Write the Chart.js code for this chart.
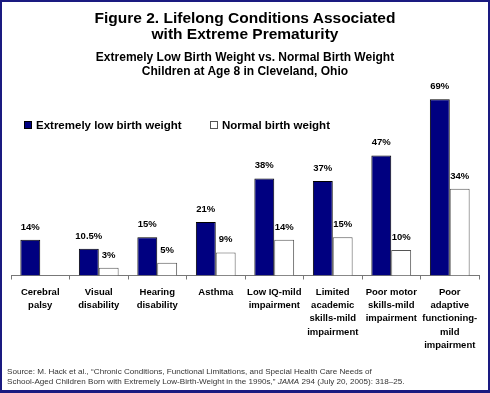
<!DOCTYPE html>
<html lang="en">
<head>
    <meta charset="UTF-8">
    <title>Figure 2. Lifelong Conditions Associated with Extreme Prematurity</title>
    <style>
        html, body {
            margin: 0;
            padding: 0;
            background: #fff;
        }
        #frame {
            position: relative;
            width: 490px;
            height: 393px;
            box-sizing: border-box;
            border: 2px solid #1a1a80;
            border-bottom-width: 3px;
            font-family: Arial, "Liberation Sans", sans-serif;
            overflow: hidden;
        }
        #title {
            position: absolute;
            top: 8px;
            left: 0;
            width: 486px;
            text-align: center;
            font-weight: bold;
            font-size: 15.5px;
            line-height: 16px;
        }
        #subtitle {
            position: absolute;
            top: 48px;
            left: 0;
            width: 486px;
            text-align: center;
            font-weight: bold;
            font-size: 12px;
            line-height: 14px;
        }
        .legend {
            position: absolute;
            top: 117px;
            font-weight: bold;
            font-size: 11.5px;
            white-space: nowrap;
        }
        .legend span.box {
            display: inline-block;
            width: 6px;
            height: 6px;
            margin-right: 4px;
            border: 1px solid #000;
        }
        #source {
            position: absolute;
            top: 365px;
            left: 5px;
            font-size: 8.1px;
            line-height: 10px;
            color: #333;
        }
        #wrap {
            position: absolute;
            left: -2px;
            top: -2px;
            width: 490px;
            height: 393px;
        }
    </style>
    <script src="https://cdn.jsdelivr.net/npm/chart.js"></script>
</head>
<body>
<div id="frame">
    <div id="wrap"><canvas id="grafico"></canvas></div>
    <div id="title">Figure 2. Lifelong Conditions Associated<br>with Extreme Prematurity</div>
    <div id="subtitle">Extremely Low Birth Weight vs. Normal Birth Weight<br>Children at Age 8 in Cleveland, Ohio</div>
    <div class="legend" style="left:22px"><span class="box" style="background:#000080"></span>Extremely low birth weight</div>
    <div class="legend" style="left:208px"><span class="box" style="background:#fff;border-color:#555"></span>Normal birth weight</div>
    <div id="source">Source: M. Hack et al., “Chronic Conditions, Functional Limitations, and Special Health Care Needs of<br>School-Aged Children Born with Extremely Low-Birth-Weight in the 1990s,” <i>JAMA</i> 294 (July 20, 2005): 318–25.</div>
</div>

<script>
    const categorie = [
        ['Cerebral', 'palsy'],
        ['Visual', 'disability'],
        ['Hearing', 'disability'],
        ['Asthma'],
        ['Low IQ-mild', 'impairment'],
        ['Limited', 'academic', 'skills-mild', 'impairment'],
        ['Poor motor', 'skills-mild', 'impairment'],
        ['Poor', 'adaptive', 'functioning-', 'mild', 'impairment']
    ];
    const pesoEstremamenteBasso = [14, 10.5, 15, 21, 38, 37, 47, 69];
    const pesoNormale = [null, 3, 5, 9, 14, 15, 10, 34];

    const etichettePlugin = {
        id: 'etichette',
        afterDatasetsDraw(chart) {
            const ctx = chart.ctx;
            ctx.save();
            ctx.font = 'bold 9.5px Arial, "Liberation Sans", sans-serif';
            ctx.fillStyle = '#000';
            ctx.textAlign = 'center';
            ctx.textBaseline = 'bottom';
            chart.data.datasets.forEach((ds, i) => {
                chart.getDatasetMeta(i).data.forEach((bar, j) => {
                    const v = ds.data[j];
                    if (v === null) return;
                    ctx.fillText(v + '%', bar.x, bar.y - 8);
                });
            });
            ctx.restore();
        }
    };

    const ctx = document.getElementById('grafico').getContext('2d');
    new Chart(ctx, {
        type: 'bar',
        data: {
            labels: categorie,
            datasets: [
                {
                    label: 'Extremely low birth weight',
                    data: pesoEstremamenteBasso,
                    backgroundColor: '#000080',
                    borderColor: '#000',
                    borderWidth: 1,
                    categoryPercentage: 0.68,
                    barPercentage: 1.0
                },
                {
                    label: 'Normal birth weight',
                    data: pesoNormale,
                    backgroundColor: '#fff',
                    borderColor: '#555',
                    borderWidth: 1,
                    categoryPercentage: 0.68,
                    barPercentage: 1.0
                }
            ]
        },
        options: {
            responsive: true,
            maintainAspectRatio: false,
            animation: false,
            layout: { padding: { top: 84, left: 11, right: 11, bottom: 35 } },
            plugins: {
                legend: { display: false },
                tooltip: { enabled: false }
            },
            scales: {
                x: {
                    grid: {
                        display: true,
                        drawOnChartArea: false,
                        tickLength: 4,
                        color: '#777'
                    },
                    border: { color: '#777' },
                    ticks: {
                        color: '#000',
                        padding: 6,
                        maxRotation: 0,
                        autoSkip: false,
                        font: { family: 'Arial, "Liberation Sans", sans-serif', size: 9.5, weight: 'bold', lineHeight: 1.4 }
                    }
                },
                y: {
                    display: false,
                    min: 0,
                    max: 75
                }
            }
        },
        plugins: [etichettePlugin]
    });
</script>
</body>
</html>
